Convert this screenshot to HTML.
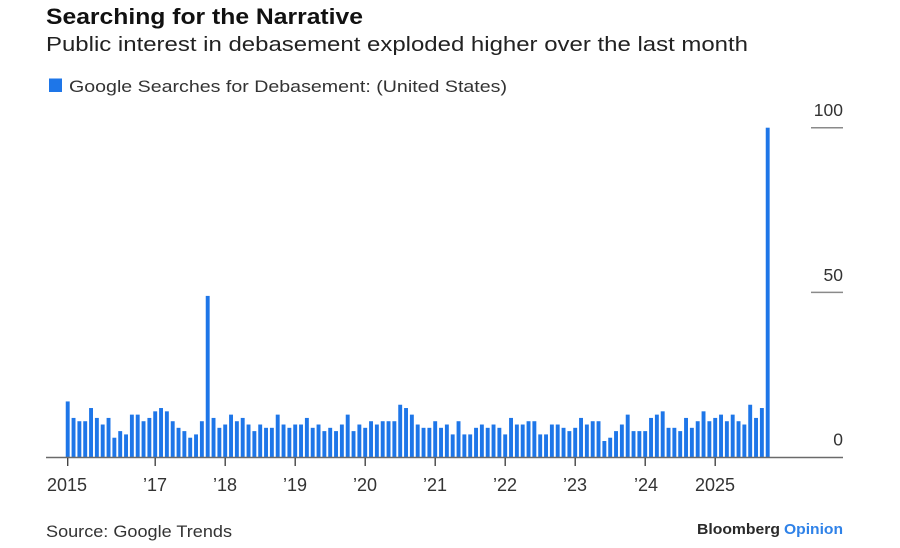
<!DOCTYPE html>
<html>
<head>
<meta charset="utf-8">
<style>
  html, body { margin: 0; padding: 0; background: #ffffff; }
  body { width: 900px; height: 548px; overflow: hidden; }
  svg { display: block; font-family: "Liberation Sans", "DejaVu Sans", sans-serif; }
</style>
</head>
<body>
<svg width="900" height="548" viewBox="0 0 900 548" xmlns="http://www.w3.org/2000/svg">
<rect x="0" y="0" width="900" height="548" fill="#ffffff"/>
<text x="46" y="24" font-size="22" font-weight="bold" fill="#111" textLength="317" lengthAdjust="spacingAndGlyphs">Searching for the Narrative</text>
<text x="46" y="51" font-size="20" fill="#222" textLength="702" lengthAdjust="spacingAndGlyphs">Public interest in debasement exploded higher over the last month</text>
<rect x="49" y="78.5" width="13" height="13.5" fill="#1e76e8"/>
<text x="69" y="92" font-size="17" fill="#333" textLength="438" lengthAdjust="spacingAndGlyphs">Google Searches for Debasement: (United States)</text>
<line x1="811" y1="127.7" x2="843" y2="127.7" stroke="#8a8a8a" stroke-width="1.5"/>
<line x1="811" y1="292.4" x2="843" y2="292.4" stroke="#8a8a8a" stroke-width="1.5"/>
<text x="843" y="116" font-size="17.5" fill="#333" text-anchor="end">100</text>
<text x="843" y="281" font-size="17.5" fill="#333" text-anchor="end">50</text>
<text x="843" y="445.5" font-size="17.5" fill="#333" text-anchor="end">0</text>
<g transform="translate(65.75,457.5) scale(5.8333,-3.298)" fill="#1e76e8">
<rect x="0" width=".67" height="17"/><rect x="1" width=".67" height="12"/><rect x="2" width=".67" height="11"/><rect x="3" width=".67" height="11"/><rect x="4" width=".67" height="15"/>
<rect x="5" width=".67" height="12"/><rect x="6" width=".67" height="10"/><rect x="7" width=".67" height="12"/><rect x="8" width=".67" height="6"/><rect x="9" width=".67" height="8"/>
<rect x="10" width=".67" height="7"/><rect x="11" width=".67" height="13"/><rect x="12" width=".67" height="13"/><rect x="13" width=".67" height="11"/><rect x="14" width=".67" height="12"/>
<rect x="15" width=".67" height="14"/><rect x="16" width=".67" height="15"/><rect x="17" width=".67" height="14"/><rect x="18" width=".67" height="11"/><rect x="19" width=".67" height="9"/>
<rect x="20" width=".67" height="8"/><rect x="21" width=".67" height="6"/><rect x="22" width=".67" height="7"/><rect x="23" width=".67" height="11"/><rect x="24" width=".67" height="49"/>
<rect x="25" width=".67" height="12"/><rect x="26" width=".67" height="9"/><rect x="27" width=".67" height="10"/><rect x="28" width=".67" height="13"/><rect x="29" width=".67" height="11"/>
<rect x="30" width=".67" height="12"/><rect x="31" width=".67" height="10"/><rect x="32" width=".67" height="8"/><rect x="33" width=".67" height="10"/><rect x="34" width=".67" height="9"/>
<rect x="35" width=".67" height="9"/><rect x="36" width=".67" height="13"/><rect x="37" width=".67" height="10"/><rect x="38" width=".67" height="9"/><rect x="39" width=".67" height="10"/>
<rect x="40" width=".67" height="10"/><rect x="41" width=".67" height="12"/><rect x="42" width=".67" height="9"/><rect x="43" width=".67" height="10"/><rect x="44" width=".67" height="8"/>
<rect x="45" width=".67" height="9"/><rect x="46" width=".67" height="8"/><rect x="47" width=".67" height="10"/><rect x="48" width=".67" height="13"/><rect x="49" width=".67" height="8"/>
<rect x="50" width=".67" height="10"/><rect x="51" width=".67" height="9"/><rect x="52" width=".67" height="11"/><rect x="53" width=".67" height="10"/><rect x="54" width=".67" height="11"/>
<rect x="55" width=".67" height="11"/><rect x="56" width=".67" height="11"/><rect x="57" width=".67" height="16"/><rect x="58" width=".67" height="15"/><rect x="59" width=".67" height="13"/>
<rect x="60" width=".67" height="10"/><rect x="61" width=".67" height="9"/><rect x="62" width=".67" height="9"/><rect x="63" width=".67" height="11"/><rect x="64" width=".67" height="9"/>
<rect x="65" width=".67" height="10"/><rect x="66" width=".67" height="7"/><rect x="67" width=".67" height="11"/><rect x="68" width=".67" height="7"/><rect x="69" width=".67" height="7"/>
<rect x="70" width=".67" height="9"/><rect x="71" width=".67" height="10"/><rect x="72" width=".67" height="9"/><rect x="73" width=".67" height="10"/><rect x="74" width=".67" height="9"/>
<rect x="75" width=".67" height="7"/><rect x="76" width=".67" height="12"/><rect x="77" width=".67" height="10"/><rect x="78" width=".67" height="10"/><rect x="79" width=".67" height="11"/>
<rect x="80" width=".67" height="11"/><rect x="81" width=".67" height="7"/><rect x="82" width=".67" height="7"/><rect x="83" width=".67" height="10"/><rect x="84" width=".67" height="10"/>
<rect x="85" width=".67" height="9"/><rect x="86" width=".67" height="8"/><rect x="87" width=".67" height="9"/><rect x="88" width=".67" height="12"/><rect x="89" width=".67" height="10"/>
<rect x="90" width=".67" height="11"/><rect x="91" width=".67" height="11"/><rect x="92" width=".67" height="5"/><rect x="93" width=".67" height="6"/><rect x="94" width=".67" height="8"/>
<rect x="95" width=".67" height="10"/><rect x="96" width=".67" height="13"/><rect x="97" width=".67" height="8"/><rect x="98" width=".67" height="8"/><rect x="99" width=".67" height="8"/>
<rect x="100" width=".67" height="12"/><rect x="101" width=".67" height="13"/><rect x="102" width=".67" height="14"/><rect x="103" width=".67" height="9"/><rect x="104" width=".67" height="9"/>
<rect x="105" width=".67" height="8"/><rect x="106" width=".67" height="12"/><rect x="107" width=".67" height="9"/><rect x="108" width=".67" height="11"/><rect x="109" width=".67" height="14"/>
<rect x="110" width=".67" height="11"/><rect x="111" width=".67" height="12"/><rect x="112" width=".67" height="13"/><rect x="113" width=".67" height="11"/><rect x="114" width=".67" height="13"/>
<rect x="115" width=".67" height="11"/><rect x="116" width=".67" height="10"/><rect x="117" width=".67" height="16"/><rect x="118" width=".67" height="12"/><rect x="119" width=".67" height="15"/>
<rect x="120" width=".67" height="100"/>
</g>
<line x1="46" y1="457.5" x2="843" y2="457.5" stroke="#6a6a6a" stroke-width="1.6"/>
<g stroke="#444" stroke-width="1.4">
<line x1="67.7" y1="458" x2="67.7" y2="466"/><line x1="155.2" y1="458" x2="155.2" y2="466"/><line x1="225.2" y1="458" x2="225.2" y2="466"/><line x1="295.2" y1="458" x2="295.2" y2="466"/><line x1="365.2" y1="458" x2="365.2" y2="466"/>
<line x1="435.2" y1="458" x2="435.2" y2="466"/><line x1="505.2" y1="458" x2="505.2" y2="466"/><line x1="575.2" y1="458" x2="575.2" y2="466"/><line x1="645.2" y1="458" x2="645.2" y2="466"/><line x1="715.2" y1="458" x2="715.2" y2="466"/>
</g>
<g font-size="18" fill="#333" text-anchor="middle">
<text x="67" y="491">2015</text><text x="155" y="491">’17</text><text x="225" y="491">’18</text><text x="295" y="491">’19</text><text x="365" y="491">’20</text>
<text x="435" y="491">’21</text><text x="505" y="491">’22</text><text x="575" y="491">’23</text><text x="646" y="491">’24</text><text x="715" y="491">2025</text>
</g>
<text x="46" y="537" font-size="16.5" fill="#333" textLength="186" lengthAdjust="spacingAndGlyphs">Source: Google Trends</text>
<text x="697" y="534" font-size="15" font-weight="bold" fill="#2a2a2a" textLength="83" lengthAdjust="spacingAndGlyphs">Bloomberg</text>
<text x="784" y="534" font-size="15" font-weight="bold" fill="#2f82e8" textLength="59" lengthAdjust="spacingAndGlyphs">Opinion</text>
</svg>
</body>
</html>
